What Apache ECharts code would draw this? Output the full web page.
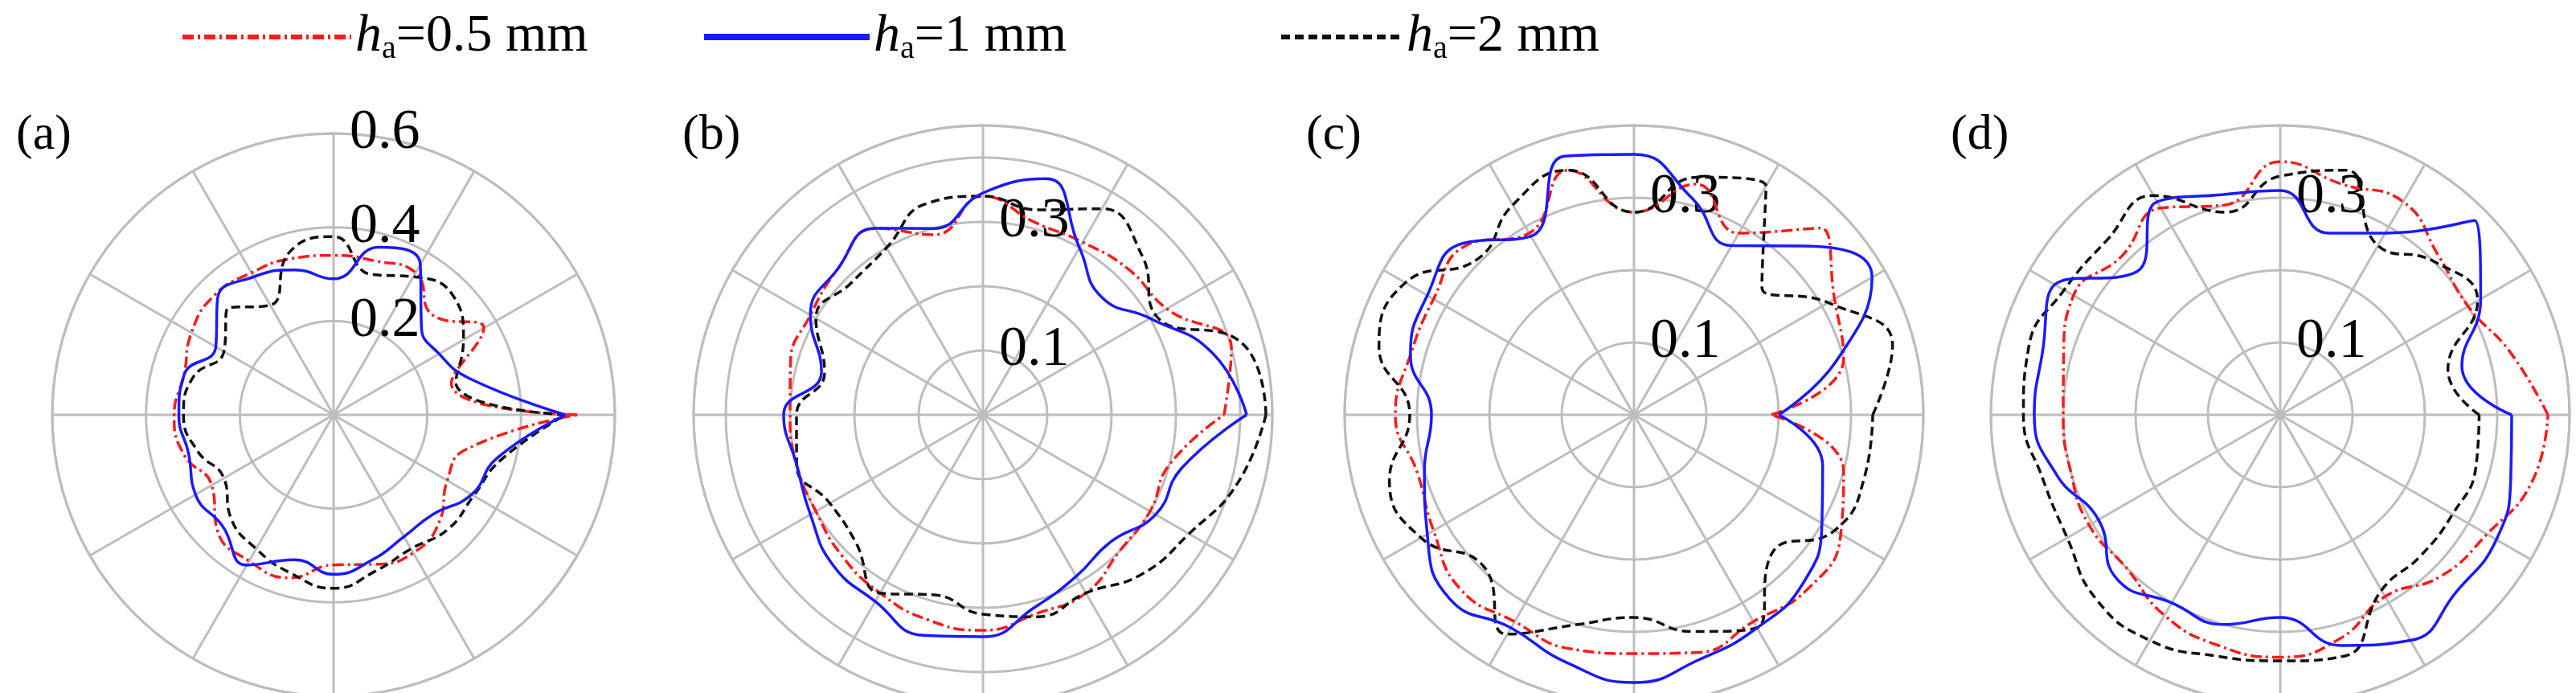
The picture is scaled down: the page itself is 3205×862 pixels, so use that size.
<!DOCTYPE html>
<html>
<head>
<meta charset="utf-8">
<script src="https://cdn.jsdelivr.net/npm/echarts@6/dist/echarts.min.js"></script>
<style>html,body{margin:0;padding:0;background:#fff}#box{width:3205px;height:862px}</style>
</head>
<body>
<div id="box"></div>
<script>
// angles (degrees, counter-clockwise from the right)
var angles = [0, 15, 30, 45, 60, 75, 90, 105, 120, 135, 150, 165, 180, 195, 210, 225, 240, 255, 270, 285, 300, 315, 330, 345];

var names = ['h05', 'h1', 'h2'];
var panelTitles = ['(a)', '(b)', '(c)', '(d)'];

// (a)
var a_h05 = [0.52, 0.26, 0.37, 0.30, 0.35, 0.34, 0.34, 0.345, 0.35, 0.36, 0.35, 0.33, 0.34, 0.33, 0.30, 0.35, 0.36, 0.36, 0.32, 0.33, 0.34, 0.32, 0.28, 0.29];
var a_h1  = [0.495, 0.30, 0.26, 0.265, 0.37, 0.37, 0.29, 0.32, 0.34, 0.35, 0.29, 0.33, 0.33, 0.32, 0.34, 0.335, 0.37, 0.32, 0.34, 0.32, 0.30, 0.30, 0.34, 0.36];
var a_h2  = [0.495, 0.27, 0.32, 0.36, 0.34, 0.31, 0.38, 0.36, 0.27, 0.32, 0.27, 0.31, 0.32, 0.30, 0.27, 0.31, 0.33, 0.35, 0.37, 0.345, 0.33, 0.345, 0.345, 0.37];
// (b)
var b_h05 = [0.375, 0.40, 0.33, 0.32, 0.31, 0.31, 0.34, 0.29, 0.335, 0.32, 0.31, 0.31, 0.30, 0.30, 0.30, 0.31, 0.32, 0.33, 0.335, 0.32, 0.32, 0.30, 0.30, 0.30];
var b_h1  = [0.41, 0.37, 0.30, 0.26, 0.30, 0.38, 0.345, 0.30, 0.335, 0.32, 0.31, 0.26, 0.31, 0.30, 0.31, 0.33, 0.335, 0.355, 0.345, 0.31, 0.29, 0.28, 0.31, 0.32];
var b_h2  = [0.44, 0.42, 0.31, 0.35, 0.37, 0.33, 0.34, 0.34, 0.30, 0.29, 0.30, 0.255, 0.29, 0.30, 0.275, 0.28, 0.32, 0.29, 0.31, 0.325, 0.32, 0.35, 0.37, 0.41];
// (c)
var c_h05 = [0.19, 0.30, 0.32, 0.365, 0.29, 0.33, 0.28, 0.35, 0.29, 0.33, 0.32, 0.32, 0.33, 0.31, 0.32, 0.34, 0.33, 0.335, 0.33, 0.34, 0.33, 0.34, 0.33, 0.30];
var c_h1  = [0.20, 0.29, 0.38, 0.33, 0.27, 0.31, 0.36, 0.37, 0.285, 0.335, 0.33, 0.32, 0.28, 0.30, 0.33, 0.36, 0.34, 0.355, 0.37, 0.35, 0.34, 0.33, 0.30, 0.27];
var c_h2  = [0.33, 0.37, 0.31, 0.25, 0.365, 0.34, 0.28, 0.35, 0.335, 0.305, 0.365, 0.365, 0.31, 0.35, 0.34, 0.295, 0.35, 0.30, 0.28, 0.31, 0.34, 0.27, 0.32, 0.33];
// (d)
var d_h05 = [0.37, 0.33, 0.30, 0.31, 0.34, 0.33, 0.35, 0.30, 0.33, 0.31, 0.33, 0.31, 0.30, 0.30, 0.305, 0.30, 0.32, 0.33, 0.335, 0.32, 0.29, 0.315, 0.33, 0.36];
var d_h1  = [0.32, 0.26, 0.32, 0.38, 0.29, 0.26, 0.31, 0.315, 0.34, 0.28, 0.36, 0.34, 0.34, 0.32, 0.29, 0.32, 0.30, 0.30, 0.28, 0.33, 0.36, 0.345, 0.345, 0.33];
var d_h2  = [0.275, 0.24, 0.315, 0.30, 0.27, 0.35, 0.33, 0.29, 0.35, 0.34, 0.345, 0.36, 0.355, 0.34, 0.34, 0.36, 0.36, 0.345, 0.34, 0.345, 0.28, 0.275, 0.275, 0.28];

var panelData = [[a_h05, a_h1, a_h2], [b_h05, b_h1, b_h2], [c_h05, c_h1, c_h2], [d_h05, d_h1, d_h2]];

// radius axis of each panel
var radiusMax = [0.6, 0.45, 0.4, 0.4];
var radiusStep = [0.2, 0.1, 0.1, 0.1];
var shownTicks = [['0.2', '0.4', '0.6'], ['0.1', '0.3'], ['0.1', '0.3'], ['0.1', '0.3']];

var centers = [[415, 516], [1223, 516], [2033, 516], [2837, 516]];
var radii = [350, 360, 360, 360];
var titleX = [20, 849, 1625, 2427];

var colors = ['#ff1a1a', '#1a1aff', '#111111'];
var dashes = [[14, 5, 3, 5], 'solid', [11, 6]];
var serif = '"Liberation Serif", "DejaVu Serif", serif';
var gridColor = '#bdbdbd';

var myChart = echarts.init(document.getElementById('box'));

var polar = [], angleAxis = [], radiusAxis = [], series = [], graphic = [];
for (var p = 0; p < 4; p++) {
    polar.push({ center: centers[p], radius: radii[p] });
    angleAxis.push({
        polarIndex: p, type: 'value', min: 0, max: 360, interval: 30,
        startAngle: 90, clockwise: false,
        axisLine: { lineStyle: { color: gridColor, width: 3 } },
        axisTick: { show: false }, axisLabel: { show: false },
        splitLine: { lineStyle: { color: gridColor, width: 3 } }
    });
    (function (p) {
        radiusAxis.push({
            polarIndex: p, min: 0, max: radiusMax[p], interval: radiusStep[p],
            axisLine: { show: false }, axisTick: { show: false },
            splitLine: { lineStyle: { color: gridColor, width: 3 } },
            axisLabel: {
                color: '#000', fontFamily: serif, fontSize: 70, margin: -20,
                align: 'left', verticalAlign: 'middle',
                formatter: function (v) {
                    var s = (Math.round(v * 10) / 10).toString();
                    return shownTicks[p].indexOf(s) >= 0 && Math.abs(v - Number(s)) < 1e-6 ? s : '';
                }
            }
        });
    })(p);
    for (var k = 0; k < 3; k++) {
        var vals = panelData[p][k];
        var pts = angles.map(function (a, i) { return [vals[i], (a - 90 + 360) % 360]; });
        pts.push([vals[0], 270]);
        series.push({
            name: names[k], type: 'line', coordinateSystem: 'polar', polarIndex: p,
            data: pts, smooth: 0.5, symbol: 'none', z: 3 + (k === 1 ? 1 : 0),
            lineStyle: { color: colors[k], width: 3.5, type: dashes[k] },
            itemStyle: { color: colors[k] }
        });
    }
    graphic.push({
        type: 'text', left: titleX[p], top: 138,
        style: { text: panelTitles[p], font: '62px ' + serif, fill: '#000' }
    });
}

var legendTxt = ['0.5 mm', '1 mm', '2 mm'];
var legendLeft = [219, 867, 1586];
var legendW = [210, 206, 151];
var legend = names.map(function (n, k) {
    return {
        data: [n], left: legendLeft[k], top: 8, itemWidth: legendW[k], itemHeight: 20, itemGap: 20,
        itemStyle: { opacity: 0 },
        lineStyle: { width: k === 1 ? 8 : 6 },
        formatter: function () { return '{i|h}{s|a}{t|=' + legendTxt[k] + '}'; },
        textStyle: {
            color: '#000', fontFamily: serif,
            rich: {
                i: { fontSize: 66, fontStyle: 'italic', fontFamily: serif },
                s: { fontSize: 40, fontFamily: serif, verticalAlign: 'bottom', padding: [30, 0, 0, 0] },
                t: { fontSize: 66, fontFamily: serif }
            }
        }
    };
});

var option = {
    animation: false,
    polar: polar,
    angleAxis: angleAxis,
    radiusAxis: radiusAxis,
    legend: legend,
    series: series,
    graphic: graphic
};

myChart.setOption(option);
</script>
</body>
</html>
